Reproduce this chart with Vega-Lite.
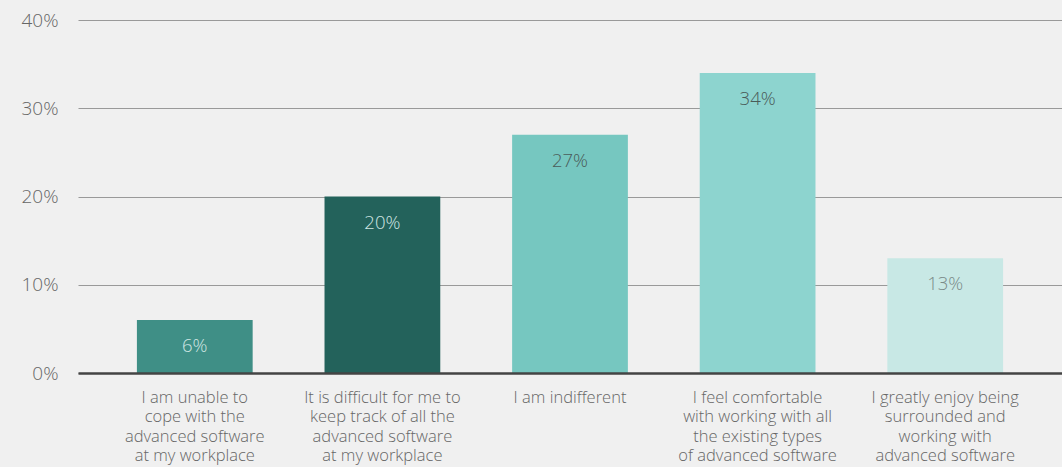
{
  "$schema": "https://vega.github.io/schema/vega-lite/v6.json",
  "autosize": {"type": "none"},
  "width": 984,
  "height": 353,
  "padding": {"left": 78, "top": 20, "right": 0, "bottom": 94},
  "background": "#f0f0f0",
  "config": {
    "view": {"stroke": null},
    "font": "Open Sans"
  },
  "data": {
    "values": [
      {"answer": "I am unable to|cope with the|advanced software|at my workplace", "share": 0.06},
      {"answer": "It is difficult for me to|keep track of all the|advanced software|at my workplace", "share": 0.20},
      {"answer": "I am indifferent", "share": 0.27},
      {"answer": "I feel comfortable|with working with all|the existing types|of advanced software", "share": 0.34},
      {"answer": "I greatly enjoy being|surrounded and|working with|advanced software", "share": 0.13}
    ]
  },
  "resolve": {"scale": {"color": "independent"}},
  "encoding": {
    "x": {
      "field": "answer",
      "type": "nominal",
      "sort": null,
      "scale": {"paddingInner": 0.383, "paddingOuter": 0.314},
      "axis": {
        "title": null,
        "labelAngle": 0,
        "labelExpr": "split(datum.label, '|')",
        "labelFont": "Open Sans",
        "labelFontWeight": 300,
        "labelFontSize": 16.5,
        "labelColor": "#666666",
        "labelLineHeight": 19.5,
        "labelPadding": 16,
        "labelLimit": 300,
        "ticks": false,
        "domainColor": "#444444",
        "domainWidth": 2.5,
        "zindex": 1
      }
    },
    "y": {
      "field": "share",
      "type": "quantitative",
      "scale": {"domain": [0, 0.4]},
      "axis": {
        "title": null,
        "values": [0, 0.1, 0.2, 0.3, 0.4],
        "format": ".0%",
        "labelFont": "Open Sans",
        "labelFontWeight": 300,
        "labelFontSize": 19,
        "labelColor": "#666666",
        "labelPadding": 20,
        "ticks": false,
        "domain": false,
        "gridColor": "#999999",
        "gridWidth": 1
      }
    }
  },
  "layer": [
    {
      "mark": {"type": "bar"},
      "encoding": {
        "color": {
          "field": "answer",
          "type": "nominal",
          "sort": null,
          "legend": null,
          "scale": {"range": ["#3f8f86", "#23625b", "#76c7c0", "#8dd4cf", "#c8e8e5"]}
        }
      }
    },
    {
      "mark": {"type": "text", "baseline": "middle", "dy": 26, "fontSize": 18.5, "font": "Open Sans", "fontWeight": 300},
      "encoding": {
        "text": {"field": "share", "type": "quantitative", "format": ".0%"},
        "color": {
          "field": "answer",
          "type": "nominal",
          "sort": null,
          "legend": null,
          "scale": {"range": ["#d0e6e3", "#d0e6e3", "#4a5b59", "#4a5b59", "#7a8a88"]}
        }
      }
    }
  ]
}
